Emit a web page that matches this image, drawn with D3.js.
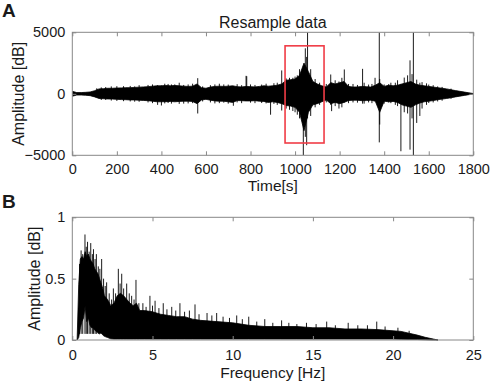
<!DOCTYPE html>
<html>
<head>
<meta charset="utf-8">
<script src="https://cdn.jsdelivr.net/npm/d3@7"></script>
<style>
  body { margin: 0; background: #fff; }
  svg { display: block; font-family: "Liberation Sans", Arial, sans-serif; }
</style>
</head>
<body>
<div id="chart"></div>
<script>
// ---- Panel A: resampled signal, envelope (every 20 s) ----
var envT = d3.range(0, 1801, 20);
var envUp = [200, 100, 100, 120, 150, 250, 400, 420, 450, 450, 470, 480, 500, 500, 520, 540, 560, 580, 620, 650,
             650, 680, 650, 680, 650, 620, 600, 620, 800, 500, 450, 550, 600, 620, 600, 620, 650, 580, 560, 600,
             580, 560, 600, 650, 620, 650, 700, 800, 1100, 1150, 1200, 1500, 2500, 1800, 1000, 800, 650, 550, 900, 800,
             900, 1000, 600, 550, 560, 600, 580, 550, 700, 900, 600, 700, 650, 700, 800, 900, 1000, 800, 700, 650,
             600, 550, 500, 450, 400, 330, 260, 200, 140, 80, 20];
var envLo = [200, 100, 100, 120, 150, 250, 380, 400, 420, 430, 450, 470, 480, 500, 500, 520, 540, 560, 600, 650,
             650, 640, 620, 650, 620, 600, 600, 620, 800, 500, 450, 520, 580, 600, 600, 650, 700, 550, 560, 580,
             580, 560, 600, 620, 700, 650, 700, 800, 950, 1000, 1100, 1500, 3000, 1500, 900, 800, 650, 500, 800, 700,
             800, 700, 550, 520, 520, 560, 550, 520, 600, 1500, 600, 650, 620, 700, 900, 1000, 1100, 900, 750, 650,
             600, 550, 480, 430, 380, 320, 250, 190, 130, 70, 20];

// individual excursions (time, max, min)
var spikeT   = [110, 130, 150, 175, 200, 230, 260, 280, 300, 340, 360, 383, 400, 415, 430, 445, 460, 480, 500, 520,
                540, 563, 585, 620, 640, 660, 680, 700, 723, 740, 760, 780, 783, 800, 820, 850, 870, 890, 905, 920,
                940, 960, 975, 990, 1000, 1010, 1020, 1037, 1046, 1052, 1056, 1070, 1090, 1110, 1140, 1160, 1164, 1180,
                1197, 1210, 1221, 1240, 1260, 1280, 1303, 1310, 1330, 1345, 1359, 1378, 1380, 1400, 1420, 1430, 1450,
                1460, 1475, 1490, 1505, 1516, 1525, 1531, 1546, 1560, 1570, 1590, 1600, 1620, 1640, 1660, 1700];
var spikeMax = [450, 520, 550, 600, 620, 620, 640, 600, 700, 720, 760, 700, 680, 820, 800, 760, 760, 900, 720, 760,
                820, 1270, 600, 700, 760, 820, 760, 750, 500, 780, 700, 1460, 1430, 760, 720, 750, 820, 600, 860, 900,
                1900, 1250, 1300, 1300, 1400, 1500, 2000, 1000, 3700, 3000, 5000, 2000, 1200, 900, 800, 1570, 900, 1100,
                1000, 1300, 1980, 800, 800, 720, 2030, 900, 750, 800, 1300, 5000, 1200, 760, 780, 900, 900,
                1100, 800, 1320, 1500, 2720, 1600, 5000, 1150, 900, 950, 850, 750, 700, 600, 560, 420];
var spikeMin = [-200, -500, -500, -550, -580, -600, -620, -640, -650, -700, -760, -900, -950, -780, -750, -800, -500, -820, -800, -780,
                -760, -1600, -620, -700, -780, -760, -720, -800, -975, -700, -760, -300, -400, -720, -760, -750, -780, -1700, -820, -900,
                -1360, -1200, -1300, -1400, -1500, -1700, -2000, -5000, -3500, -4180, -2000, -1800, -1100, -900, -700, -900, -1410, -1000,
                -1200, -1100, -700, -760, -700, -720, -800, -800, -700, -760, -500, -3950, -2500, -800, -700, -760, -900,
                -1000, -4670, -1500, -1600, -4540, -2000, -5000, -2370, -1800, -1200, -900, -750, -700, -620, -560, -400];

var boxT = [955, 1130];
var boxA = [-4000, 3900];

var timeTicks = d3.range(0, 1801, 200);
var ampTicks = [-5000, 0, 5000];

// ---- Panel B: spectrum envelope ----
var specF  = [0.3, 0.4, 0.5, 0.6, 0.7, 0.8, 0.9, 1.0, 1.1, 1.2, 1.3, 1.4, 1.5, 1.6, 1.7, 1.8, 1.9, 2.0, 2.2, 2.4,
              2.6, 2.8, 3.0, 3.2, 3.4, 3.6, 3.8, 4.0, 4.2, 4.5, 5.0, 5.5, 6.0, 6.5, 7, 7.5, 8, 9, 10, 11,
              12, 13, 14, 15, 16, 17, 18, 19, 20, 20.5, 21, 21.5, 22, 22.5, 22.8];
var specUp = [0.0, 0.45, 0.66, 0.68, 0.66, 0.72, 0.68, 0.70, 0.66, 0.64, 0.62, 0.58, 0.56, 0.54, 0.50, 0.46, 0.42, 0.36, 0.33, 0.28,
              0.30, 0.36, 0.38, 0.36, 0.33, 0.30, 0.28, 0.30, 0.24, 0.24, 0.23, 0.21, 0.20, 0.19, 0.19, 0.17, 0.16, 0.15, 0.14, 0.12,
              0.11, 0.11, 0.11, 0.10, 0.10, 0.09, 0.09, 0.085, 0.075, 0.07, 0.055, 0.04, 0.022, 0.008, 0];
var specLo = [0, 0.02, 0.10, 0.15, 0.18, 0.28, 0.15, 0.18, 0.12, 0.10, 0.10, 0.08, 0.07, 0.06, 0.05, 0.06, 0.04, 0.03, 0.02, 0.01,
              0.008, 0.008, 0.008, 0.008, 0.008, 0.008, 0.008, 0.008, 0.008, 0.008, 0.008, 0.008, 0.008, 0.008, 0.008, 0.008, 0.008, 0.008, 0.008, 0.008,
              0.008, 0.008, 0.008, 0.008, 0.008, 0.008, 0.008, 0.008, 0.008, 0.006, 0.005, 0.004, 0.002, 0, 0];

var peakF = [0.45, 0.55, 0.65, 0.79, 0.87, 0.95, 1.05, 1.15, 1.25, 1.32, 1.42, 1.5, 1.62, 1.72, 1.83, 1.95, 2.05, 2.14, 2.3, 2.45,
             2.56, 2.7, 2.87, 2.98, 3.08, 3.2, 3.39, 3.55, 3.7, 3.85, 3.97, 4.15, 4.4, 4.6, 4.84, 5.0, 5.16, 5.4, 5.67, 5.9,
             6.2, 6.45, 6.71, 7.0, 7.3, 7.65, 7.9, 8.4, 8.7, 9.0, 9.4, 9.8, 10.25, 10.6, 11.0, 11.5, 12.0, 12.5, 13.05, 13.5,
             14.0, 14.6, 15.2, 15.86, 16.4, 17.2, 17.8, 18.4, 18.98, 19.5, 20.3, 21.0];
var peakA = [0.62, 0.73, 0.70, 0.86, 0.76, 0.80, 0.72, 0.79, 0.70, 0.74, 0.66, 0.70, 0.60, 0.58, 0.66, 0.50, 0.44, 0.47, 0.38, 0.33,
             0.42, 0.38, 0.58, 0.46, 0.54, 0.42, 0.46, 0.38, 0.36, 0.33, 0.49, 0.30, 0.30, 0.27, 0.36, 0.28, 0.32, 0.26, 0.30, 0.25,
             0.27, 0.24, 0.30, 0.23, 0.24, 0.29, 0.21, 0.22, 0.20, 0.22, 0.19, 0.18, 0.20, 0.17, 0.19, 0.15, 0.17, 0.14, 0.16, 0.14,
             0.13, 0.14, 0.13, 0.15, 0.12, 0.14, 0.12, 0.12, 0.15, 0.11, 0.10, 0.075];

var freqTicks = [0, 5, 10, 15, 20, 25];
var specTicks = [0, 0.5, 1];

var W = 491, H = 384;
var svg = d3.select("#chart").append("svg").attr("width", W).attr("height", H);

var axisColor = "#888";
var textColor = "#1a1a1a";

function frame(g, x, y, xTicks, yTicks, xPad, yFmt) {
    var x0 = x.range()[0], x1 = x.range()[1];
    var yb = y.range()[0], yt = y.range()[1];
    var bottom = g.append("g").attr("transform", "translate(0," + yb + ")")
        .call(d3.axisBottom(x).tickValues(xTicks).tickSize(-4).tickPadding(xPad).tickFormat(d3.format("d")));
    var top = g.append("g").attr("transform", "translate(0," + yt + ")")
        .call(d3.axisTop(x).tickValues(xTicks).tickSize(-4).tickFormat(""));
    var left = g.append("g").attr("transform", "translate(" + x0 + ",0)")
        .call(d3.axisLeft(y).tickValues(yTicks).tickSize(-4).tickPadding(7).tickFormat(yFmt));
    var right = g.append("g").attr("transform", "translate(" + x1 + ",0)")
        .call(d3.axisRight(y).tickValues(yTicks).tickSize(-4).tickFormat(""));
    [bottom, top, left, right].forEach(function (a) {
        a.select(".domain").remove();
        a.selectAll("line").attr("stroke", axisColor);
        a.selectAll("text")
            .attr("font-family", "Liberation Sans, Arial, sans-serif")
            .attr("font-size", 14.5)
            .attr("fill", textColor);
    });
    g.append("rect")
        .attr("x", x0).attr("y", yt)
        .attr("width", x1 - x0).attr("height", yb - yt)
        .attr("fill", "none").attr("stroke", axisColor).attr("stroke-width", 1);
}

// ---------------- Panel A ----------------
var xA = d3.scaleLinear().domain([0, 1800]).range([72.3, 473.3]);
var yA = d3.scaleLinear().domain([-5000, 5000]).range([155.3, 32.3]);

var gA = svg.append("g");
gA.append("clipPath").attr("id", "clipA").append("rect")
    .attr("x", 72.3).attr("y", 32.3).attr("width", 401).attr("height", 123);

var sig = gA.append("g").attr("clip-path", "url(#clipA)");
var envA = envT.map(function (t, i) { return { t: t, up: envUp[i], lo: -envLo[i] }; });
sig.append("path")
    .datum(envA)
    .attr("fill", "#000")
    .attr("stroke", "#000")
    .attr("stroke-width", 0.8)
    .attr("d", d3.area().x(function (d) { return xA(d.t); })
        .y0(function (d) { return yA(d.lo); })
        .y1(function (d) { return yA(d.up); }));

sig.selectAll("line.spike")
    .data(spikeT.map(function (t, i) { return { t: t, max: spikeMax[i], min: spikeMin[i] }; }))
    .enter().append("line")
    .attr("class", "spike")
    .attr("x1", function (d) { return xA(d.t); })
    .attr("x2", function (d) { return xA(d.t); })
    .attr("y1", function (d) { return yA(d.max); })
    .attr("y2", function (d) { return yA(d.min); })
    .attr("stroke", "#000")
    .attr("stroke-width", 0.9);

frame(gA, xA, yA, timeTicks, ampTicks, 8, d3.format("d"));

gA.append("rect")
    .attr("x", xA(boxT[0])).attr("y", yA(boxA[1]))
    .attr("width", xA(boxT[1]) - xA(boxT[0]))
    .attr("height", yA(boxA[0]) - yA(boxA[1]))
    .attr("fill", "none").attr("stroke", "#f03c46").attr("stroke-width", 1.6);

gA.append("text").attr("x", 272.8).attr("y", 28).attr("text-anchor", "middle")
    .attr("font-size", 16).attr("fill", textColor).text("Resample data");
gA.append("text").attr("x", 272.8).attr("y", 191).attr("text-anchor", "middle")
    .attr("font-size", 15.5).attr("fill", textColor).text("Time[s]");
gA.append("text").attr("transform", "translate(24,93.8) rotate(-90)").attr("text-anchor", "middle")
    .attr("font-size", 16).attr("fill", textColor).text("Amplitude [dB]");
svg.append("text").attr("x", 2).attr("y", 17).attr("font-size", 19).attr("font-weight", "bold")
    .attr("fill", textColor).text("A");

// ---------------- Panel B ----------------
var xB = d3.scaleLinear().domain([0, 25]).range([72.3, 473.3]);
var yB = d3.scaleLinear().domain([0, 1]).range([340, 217.3]);

var gB = svg.append("g");
var envB = specF.map(function (f, i) { return { f: f, up: specUp[i], lo: specLo[i] }; });
gB.append("path")
    .datum(envB)
    .attr("fill", "#000")
    .attr("stroke", "#000")
    .attr("stroke-width", 0.8)
    .attr("d", d3.area().x(function (d) { return xB(d.f); })
        .y0(function (d) { return yB(d.lo); })
        .y1(function (d) { return yB(d.up); }));

gB.selectAll("line.peak")
    .data(peakF.map(function (f, i) { return { f: f, a: peakA[i] }; }))
    .enter().append("line")
    .attr("class", "peak")
    .attr("x1", function (d) { return xB(d.f); })
    .attr("x2", function (d) { return xB(d.f); })
    .attr("y1", function (d) { return yB(d.a); })
    .attr("y2", yB(0.05))
    .attr("stroke", "#000")
    .attr("stroke-width", 0.9);

frame(gB, xB, yB, freqTicks, specTicks, 10, function (d) { return d === 0.5 ? "0.5" : d3.format("d")(d); });

gB.append("text").attr("x", 272.8).attr("y", 378).attr("text-anchor", "middle")
    .attr("font-size", 15.5).attr("fill", textColor).text("Frequency [Hz]");
gB.append("text").attr("transform", "translate(40,278.6) rotate(-90)").attr("text-anchor", "middle")
    .attr("font-size", 16).attr("fill", textColor).text("Amplitude [dB]");
svg.append("text").attr("x", 2).attr("y", 208).attr("font-size", 19).attr("font-weight", "bold")
    .attr("fill", textColor).text("B");
</script>
</body>
</html>
